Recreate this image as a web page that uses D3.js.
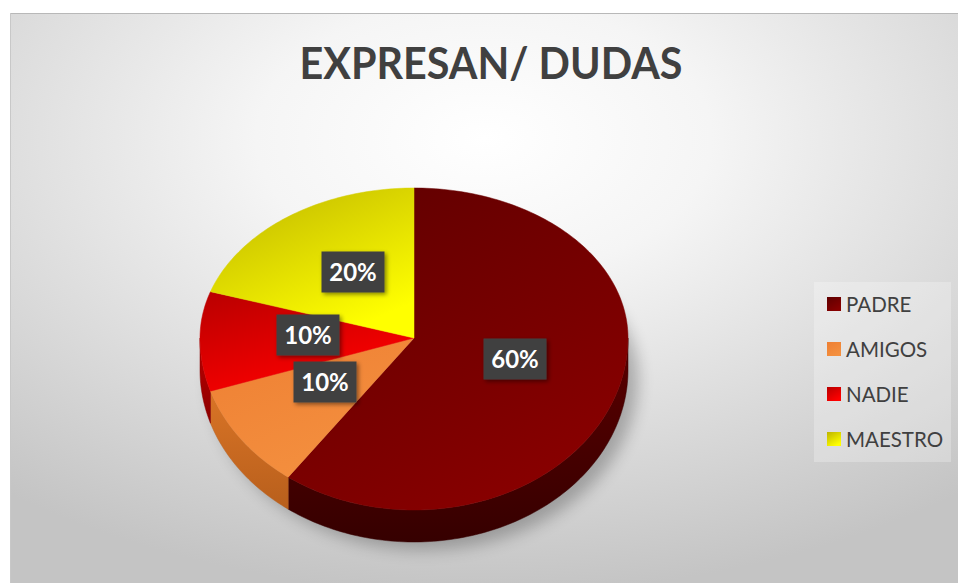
<!DOCTYPE html>
<html><head><meta charset="utf-8">
<script src="https://cdn.jsdelivr.net/npm/d3@7"></script>
<style>html,body{margin:0;padding:0;background:#fff;}svg{display:block;}</style>
</head><body>
<svg id="c" width="958" height="583"></svg>
<script>
const title = "EXPRESAN/ DUDAS";
const categories = ["PADRE", "AMIGOS", "NADIE", "MAESTRO"];
const values = [60, 10, 10, 20];
const labels = ["60%", "10%", "10%", "20%"];
const topColors = [["#5e0000", "#880000"], ["#ee7f33", "#f4903f"], ["#b80000", "#ff0000"], ["#bdb400", "#ffff00"]];
const sideColors = [["#5a0000", "#360000"], ["#d97426", "#b85f1c"], ["#c00000", "#8a0000"], ["#c8c000", "#9a9000"]];

const svg = d3.select("#c");
const W = 958, H = 583;
const defs = svg.append("defs");

// background
const bg = defs.append("radialGradient").attr("id", "bg").attr("cx", "50%").attr("cy", "22%").attr("r", "80%");
bg.append("stop").attr("offset", "0%").attr("stop-color", "#ffffff");
bg.append("stop").attr("offset", "30%").attr("stop-color", "#f5f5f5");
bg.append("stop").attr("offset", "100%").attr("stop-color", "#c4c4c4");
svg.append("rect").attr("x", 10).attr("y", 13).attr("width", W - 10).attr("height", H - 13).attr("fill", "url(#bg)");
svg.append("line").attr("x1", 10).attr("x2", W).attr("y1", 13.5).attr("y2", 13.5).attr("stroke", "#b8b8b8");
svg.append("line").attr("x1", 10.5).attr("x2", 10.5).attr("y1", 13).attr("y2", H).attr("stroke", "#c8c8c8");

// title
svg.append("text").attr("x", 491).attr("y", 79).attr("text-anchor", "middle")
  .attr("font-family", "Lato, 'Open Sans', sans-serif").attr("font-weight", "bold")
  .attr("font-size", 44).attr("textLength", 383).attr("lengthAdjust", "spacingAndGlyphs")
  .attr("fill", "#404040").text(title);

// gradients
topColors.forEach((c, i) => {
  const g = defs.append("linearGradient").attr("id", "tg" + i).attr("x1", "0").attr("y1", "0").attr("x2", "0.6").attr("y2", "1");
  g.append("stop").attr("offset", "0%").attr("stop-color", c[0]);
  g.append("stop").attr("offset", "100%").attr("stop-color", c[1]);
  const s = defs.append("linearGradient").attr("id", "sg" + i).attr("x1", "0").attr("y1", "0").attr("x2", "0").attr("y2", "1");
  s.append("stop").attr("offset", "0%").attr("stop-color", sideColors[i][0]);
  s.append("stop").attr("offset", "100%").attr("stop-color", sideColors[i][1]);
});

// shadow filter
const f = defs.append("filter").attr("id", "blur").attr("x", "-20%").attr("y", "-20%").attr("width", "140%").attr("height", "140%");
f.append("feGaussianBlur").attr("stdDeviation", 8);
const ls = defs.append("filter").attr("id", "lshadow").attr("x", "-20%").attr("y", "-20%").attr("width", "150%").attr("height", "150%");
ls.append("feDropShadow").attr("dx", 2).attr("dy", 2).attr("stdDeviation", 2).attr("flood-color", "#000").attr("flood-opacity", 0.45);

// pie geometry
const cx = 414, cy = 338, rx = 214, ryTop = 150, ryBot = 172, depth = 32;
function pt(theta, dy) {
  const s = Math.sin(theta), c = Math.cos(theta);
  const ry = c >= 0 ? ryTop : ryBot;
  return [cx + rx * s, cy - ry * c + (dy || 0)];
}
const pie = d3.pie().sort(null).value(d => d)(values);

// shadow under pie
const shadowPts = d3.range(0, 2 * Math.PI + 0.01, 0.05).map(t => { const p = pt(t, depth + 4); return [p[0] + 10, p[1] + 4]; });
svg.append("path").attr("d", d3.line()(shadowPts) + "Z").attr("fill", "#000").attr("opacity", 0.25).attr("filter", "url(#blur)");

function arcPts(a0, a1, dy) {
  const n = Math.max(2, Math.ceil((a1 - a0) / 0.02));
  return d3.range(n + 1).map(k => pt(a0 + (a1 - a0) * k / n, dy));
}

const g = svg.append("g");
pie.forEach((d, i) => {
  const a0 = Math.max(d.startAngle, Math.PI / 2), a1 = Math.min(d.endAngle, 3 * Math.PI / 2);
  if (a1 <= a0) return;
  const topE = arcPts(a0, a1, 0);
  const botE = arcPts(a0, a1, depth).reverse();
  g.append("path").attr("d", d3.line()(topE.concat(botE)) + "Z").attr("fill", "url(#sg" + i + ")")
    .attr("stroke", sideColors[i][1]).attr("stroke-width", 0.5);
});
pie.forEach((d, i) => {
  const pts = [[cx, cy]].concat(arcPts(d.startAngle, d.endAngle, 0));
  g.append("path").attr("d", d3.line()(pts) + "Z").attr("fill", "url(#tg" + i + ")")
    .attr("stroke", "url(#tg" + i + ")").attr("stroke-width", 0.5);
});

// data labels
const labelPos = [[515, 359], [325, 382], [308, 335], [353, 272]];
pie.forEach((d, i) => {
  const lg = svg.append("g").attr("transform", `translate(${labelPos[i][0]},${labelPos[i][1]})`);
  lg.append("rect").attr("x", -31.5).attr("y", -20.5).attr("width", 63).attr("height", 41)
    .attr("fill", "#404040").attr("filter", "url(#lshadow)");
  lg.append("text").attr("x", 0).attr("y", 8.5).attr("text-anchor", "middle")
    .attr("font-family", "Lato, 'Open Sans', sans-serif").attr("font-weight", "bold")
    .attr("font-size", 24).attr("fill", "#ffffff").text(labels[i]);
});

// legend
svg.append("rect").attr("x", 814).attr("y", 282).attr("width", 137).attr("height", 180)
  .attr("fill", "#ffffff").attr("opacity", 0.25);
categories.forEach((c, i) => {
  const y = 304 + i * 45;
  svg.append("rect").attr("x", 827).attr("y", y - 7).attr("width", 14).attr("height", 14).attr("fill", "url(#tg" + i + ")");
  svg.append("text").attr("x", 846).attr("y", y + 7.5).attr("font-family", "Lato, 'Open Sans', sans-serif")
    .attr("font-size", 20.5).attr("fill", "#404040").text(c);
});
</script>
</body></html>
